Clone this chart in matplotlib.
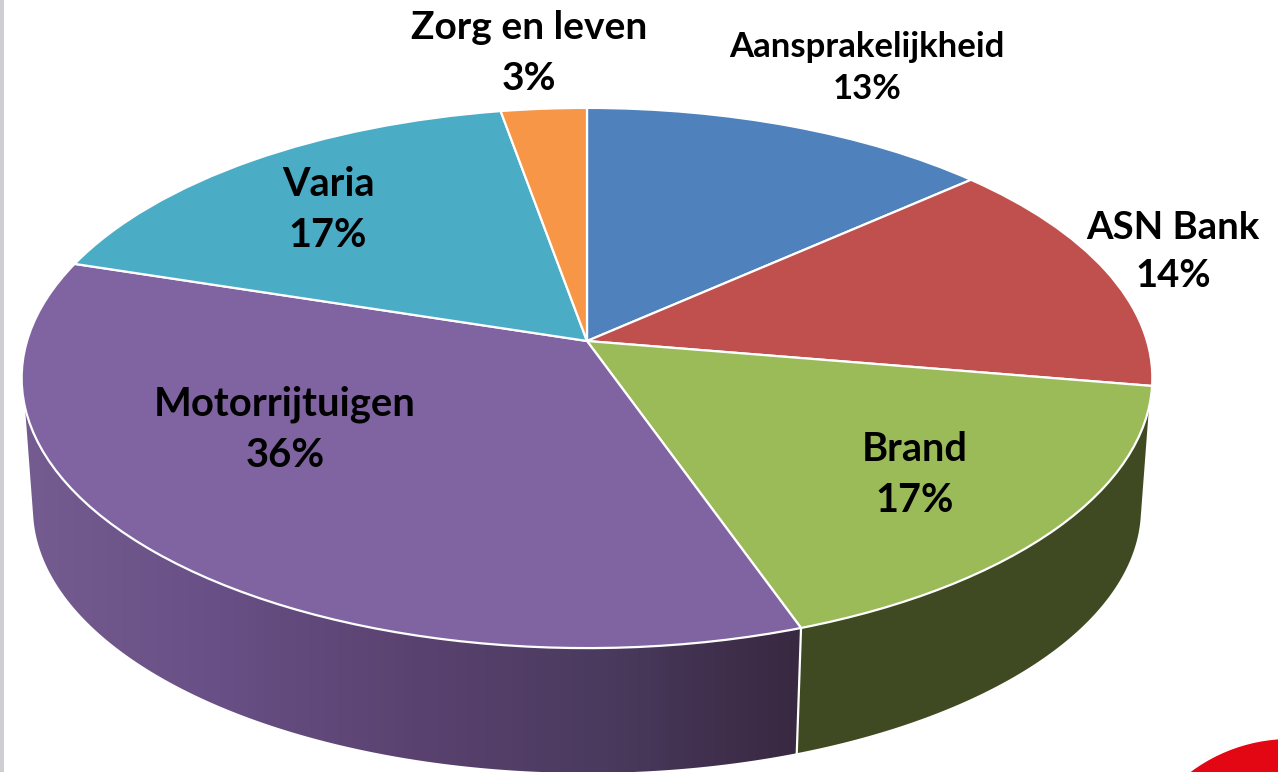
import numpy as np
import matplotlib
matplotlib.use("Agg")
import matplotlib.pyplot as plt
from matplotlib.colors import LinearSegmentedColormap
from matplotlib.patches import Circle, Polygon, Rectangle
from matplotlib.transforms import Transform

categories = ["Aansprakelijkheid", "ASN Bank", "Brand", "Motorrijtuigen", "Varia", "Zorg en leven"]
shares = [13.45, 14.2, 16.95, 35.3, 17.3, 2.8]
percent_labels = [13, 14, 17, 36, 17, 3]

colors = ["#4f81bd", "#c0504d", "#9bbb59", "#8064a2", "#4bacc6", "#f79646"]
green_wall = "#404a22"
purple_wall_stops = ["#745c90", "#684f85", "#5a4270", "#4a3a5e", "#382840"]

# label centres (pixels), font sizes and line spacing
label_xy = [(867, 68), (1173, 252), (915, 475), (285, 430), (328, 210), (529, 53)]
label_size = [25, 27.5, 28.5, 28.8, 28.5, 28]
label_spacing = [1.41, 1.52, 1.47, 1.47, 1.47, 1.52]

W, H = 1278, 772
CX, CY = 587.0, 341.0      # apex of the pie in pixels
A, B, K = 560.0, 265.0, 0.137   # projection of the unit circle
DROP, SHRINK = 131.0, 0.98      # lower rim of the 3-D wall
UPPER_LIMIT = (104.0, 256.0)    # visible wall on the upper rim, degrees clockwise from the top
LOWER_LIMIT = (100.0, 260.0)    # visible wall on the lower rim


class PieProjection(Transform):
    input_dims = output_dims = 2

    def transform_non_affine(self, values):
        v = np.asarray(values, float)
        w = 1 + K * v[:, 1]
        return np.column_stack([CX + A * v[:, 0] / w, CY - B * v[:, 1] / w])


def rim(phi_deg, lower=False):
    p = np.radians(phi_deg)
    w = 1 + K * np.cos(p)
    s = SHRINK if lower else 1.0
    d = DROP if lower else 0.0
    return np.column_stack([CX + s * A * np.sin(p) / w, CY + d - s * B * np.cos(p) / w])


plt.rcParams["font.family"] = ["Lato", "DejaVu Sans"]
fig = plt.figure(figsize=(W / 100, H / 100), dpi=100, facecolor="white")
ax = fig.add_axes([0, 0, 1, 1])

wedges, _ = ax.pie(shares, colors=colors, startangle=90, counterclock=False,
                   wedgeprops=dict(edgecolor="white", linewidth=1.6, joinstyle="round",
                                   clip_on=False, zorder=5))
proj = PieProjection()
for w in wedges:
    w.set_transform(proj + ax.transData)
ax.set_aspect("auto")
ax.axis("off")

# wall segments from the cumulative shares
edges = 3.6 * np.cumsum([0] + shares)
wall_break = edges[3]


def wall_polygon(up_a, up_b, low_a, low_b):
    upper = rim(np.linspace(up_a, up_b, 120))
    lower = rim(np.linspace(low_b, low_a, 120), lower=True)
    return np.vstack([upper, lower])


ax.add_patch(Polygon(wall_polygon(UPPER_LIMIT[0], wall_break, LOWER_LIMIT[0], wall_break),
                     closed=True, facecolor=green_wall, edgecolor="none", zorder=2))
purple_xy = wall_polygon(wall_break, UPPER_LIMIT[1], wall_break, LOWER_LIMIT[1])
purple_poly = Polygon(purple_xy, closed=True, facecolor="none", edgecolor="none", zorder=2)
ax.add_patch(purple_poly)
cmap = LinearSegmentedColormap.from_list("wall", purple_wall_stops)
ramp = np.linspace(0, 1, 256).reshape(1, -1)
img = ax.imshow(ramp, cmap=cmap, extent=(purple_xy[:, 0].min(), purple_xy[:, 0].max(), H + 10, 300),
                aspect="auto", zorder=2)
img.set_clip_path(purple_poly)
ax.set_xlim(0, W)
ax.set_ylim(H, 0)

divider = np.vstack([rim(wall_break), rim(wall_break, lower=True)])
ax.plot(divider[:, 0], divider[:, 1], color="white", lw=1.6, zorder=4)

# window chrome around the picture
ax.add_patch(Rectangle((0, 0), 4, H, facecolor="#cfcfd3", edgecolor="none", zorder=1))
ax.add_patch(Circle((1290, 905), 166, facecolor="#e30613", edgecolor="none", zorder=1))

for name, pct, (x, y), size, sp in zip(categories, percent_labels, label_xy, label_size, label_spacing):
    ax.text(x, y, f"{name}\n{pct}%", ha="center", va="center", fontsize=size,
            fontweight="bold", color="black", linespacing=sp, zorder=6)

fig.savefig("out.png", dpi=100, facecolor="white")
